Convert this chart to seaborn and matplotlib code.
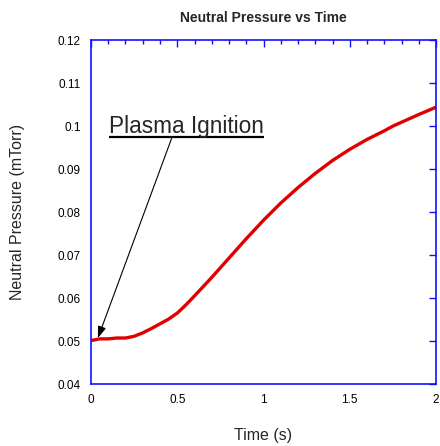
import matplotlib
matplotlib.use("Agg")
import matplotlib.pyplot as plt
from matplotlib.ticker import MultipleLocator, FuncFormatter
import seaborn as sns
import pandas as pd

# data -------------------------------------------------------------------------
time_s = [0.00, 0.05, 0.10, 0.15, 0.20, 0.25, 0.30, 0.35, 0.40, 0.45, 0.50, 0.55,
          0.60, 0.70, 0.80, 0.90, 1.00, 1.10, 1.20, 1.30, 1.40, 1.50,
          1.60, 1.70, 1.75, 1.80, 1.90, 2.00]
pressure_mtorr = [0.0501, 0.0505, 0.0505, 0.0507, 0.0507, 0.0511, 0.0519, 0.0529, 0.0540, 0.0551, 0.0565, 0.0584,
                  0.0605, 0.0648, 0.0693, 0.0738, 0.0781, 0.0821, 0.0857, 0.0890, 0.0920, 0.0946,
                  0.0969, 0.0989, 0.1000, 0.1009, 0.1027, 0.1044]
ignition_point = (0.04, 0.0507)
ignition_label = "Plasma Ignition"

df = pd.DataFrame({"Time": time_s, "Pressure": pressure_mtorr})

sns.set_style("white")
plt.rcParams["font.family"] = ["Liberation Sans", "DejaVu Sans"]

fig = plt.figure(figsize=(4.4, 4.46), dpi=100)
ax = fig.add_axes([0.2068, 0.139, 0.7842, 0.771])

sns.lineplot(data=df, x="Time", y="Pressure", ax=ax, color="#e00000", lw=2.4)

ax.set_xlim(0, 2)
ax.set_ylim(0.04, 0.12)
ax.xaxis.set_major_locator(MultipleLocator(0.5))
ax.xaxis.set_minor_locator(MultipleLocator(0.1))
ax.yaxis.set_major_locator(MultipleLocator(0.01))
fmt = FuncFormatter(lambda v, p: "%g" % round(v, 4))
ax.xaxis.set_major_formatter(fmt)
ax.yaxis.set_major_formatter(fmt)

for s in ax.spines.values():
    s.set_visible(True)
    s.set_color("#1010ff")
    s.set_linewidth(1.2)
ax.tick_params(which="both", direction="in", top=True, right=True, colors="#1010ff",
               labelcolor="black", labelsize=8.5)
ax.tick_params(which="major", length=5, width=1, pad=7.5)
ax.tick_params(which="minor", length=3, width=1)

ax.set_title("Neutral Pressure vs Time", fontsize=10, fontweight="bold", pad=13)
ax.set_xlabel("Time (s)", fontsize=11.5)
ax.set_ylabel("Neutral Pressure (mTorr)", fontsize=11.5)
ax.xaxis.set_label_coords(0.5, -0.128)
ax.yaxis.set_label_coords(-0.19, 0.5)

# annotation with underline
txt = ax.text(0.104, 0.0984, ignition_label, fontsize=16.3, ha="left", va="baseline")
fig.canvas.draw()
bb = txt.get_window_extent()
inv = ax.transData.inverted()
(ux0, uy), (ux1, _) = inv.transform([(bb.x0, bb.y0 + 1), (bb.x1, bb.y0 + 1)])
ax.plot([ux0, ux1], [uy, uy], color="black", lw=1.6, solid_capstyle="butt")
start = ux0 + 0.405 * (ux1 - ux0)
ax.annotate("", xy=ignition_point, xytext=(start, uy - 0.0003),
            arrowprops=dict(arrowstyle="-|>,head_length=0.7,head_width=0.25",
                            color="black", lw=0.8, shrinkA=0, shrinkB=0))

fig.savefig("out.png", dpi=100)
